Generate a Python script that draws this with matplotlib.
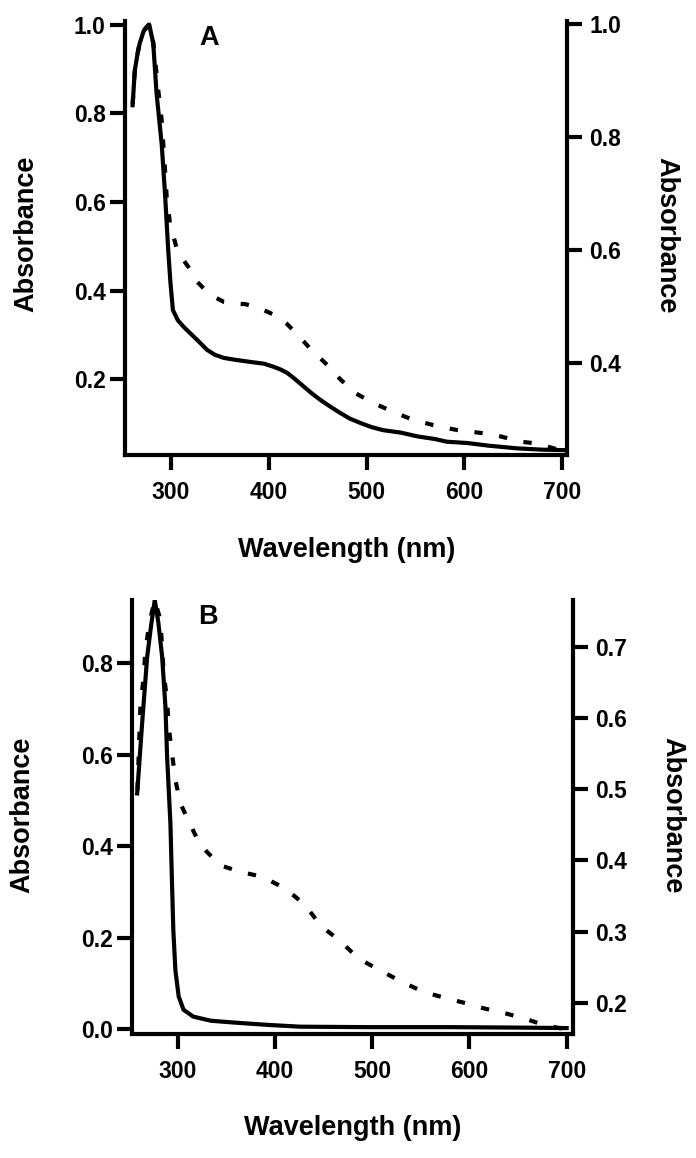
import numpy as np
import matplotlib.pyplot as plt

plt.rcParams['font.family'] = ['Liberation Sans', 'DejaVu Sans']
plt.rcParams['font.weight'] = 'bold'

# panel A, solid trace (left axis)
a_solid_wl = [260.8, 263, 265.5, 268, 272, 277.8, 281.9, 285.3, 290.5, 293.9, 297.2, 299.5,
              302, 307, 313, 320, 328, 337, 345, 354, 365, 381, 395, 405, 412, 419, 427,
              436, 444, 453, 463, 473, 483, 494, 505, 517, 535, 552, 570, 582, 603, 625,
              654, 680, 702]
a_solid_ab = [0.818, 0.896, 0.93, 0.957, 0.985, 1.0, 0.957, 0.844, 0.731, 0.619, 0.491,
              0.417, 0.356, 0.333, 0.318, 0.303, 0.286, 0.266, 0.255, 0.248, 0.244, 0.239,
              0.235, 0.228, 0.222, 0.214, 0.200, 0.183, 0.168, 0.153, 0.138, 0.124, 0.111,
              0.101, 0.092, 0.085, 0.0795, 0.071, 0.065, 0.059, 0.056, 0.050, 0.044,
              0.041, 0.040]

# panel A, dashed trace (right axis)
a_dash_wl = [260.8, 263, 265.5, 268, 272, 277.8, 282, 287, 290.5, 292.1, 293.9, 295.6,
             299, 305.8, 311.5, 317.7, 326, 335, 344, 354, 365, 376, 387, 398, 408, 418,
             430, 442, 451, 460, 472, 488, 507, 529, 548, 568, 593, 617, 637, 656, 675,
             695, 704]
a_dash_ab = [0.858, 0.918, 0.945, 0.966, 0.988, 1.0, 0.966, 0.883, 0.830, 0.789, 0.742,
             0.694, 0.647, 0.603, 0.585, 0.570, 0.545, 0.529, 0.517, 0.508, 0.505, 0.504,
             0.499, 0.491, 0.483, 0.470, 0.449, 0.426, 0.411, 0.396, 0.373, 0.347, 0.329,
             0.312, 0.299, 0.290, 0.281, 0.276, 0.270, 0.261, 0.257, 0.247, 0.245]

# panel B, solid trace (left axis)
b_solid_wl = [258.3, 263.4, 268.6, 272.5, 276.4, 280, 284, 287.4, 289.1, 292.5, 294,
              295.5, 297.6, 301, 306, 316, 334, 358, 392, 426, 495, 580, 650, 700]
b_solid_ab = [0.515, 0.668, 0.814, 0.88, 0.938, 0.89, 0.814, 0.704, 0.595, 0.45, 0.33,
              0.216, 0.129, 0.071, 0.042, 0.027, 0.018, 0.014, 0.009, 0.005, 0.004, 0.004,
              0.003, 0.002]

# panel B, dashed trace (right axis)
b_dash_wl = [258.6, 261.7, 265, 266.8, 271, 276.4, 282.2, 285.6, 289.1, 290.7, 294.2,
             297.6, 302.8, 314.8, 322, 330, 344, 364, 387, 407, 420, 431, 448, 466, 486,
             510, 531, 553, 577, 597, 615, 637, 656, 676, 697, 704]
b_dash_ab = [0.499, 0.618, 0.658, 0.695, 0.735, 0.766, 0.738, 0.663, 0.625, 0.588, 0.550,
             0.513, 0.480, 0.445, 0.425, 0.412, 0.393, 0.384, 0.377, 0.363, 0.350, 0.337,
             0.307, 0.288, 0.262, 0.244, 0.229, 0.215, 0.206, 0.199, 0.192, 0.185, 0.178,
             0.169, 0.163, 0.162]

a_left_ticks = [0.2, 0.4, 0.6, 0.8, 1.0]
a_right_ticks = [0.4, 0.6, 0.8, 1.0]
b_left_ticks = [0.0, 0.2, 0.4, 0.6, 0.8]
b_right_ticks = [0.2, 0.3, 0.4, 0.5, 0.6, 0.7]
x_ticks = [300, 400, 500, 600, 700]

W, H = 696, 1158
fig = plt.figure(figsize=(W / 100, H / 100), dpi=100)

LW = 3.0
TICK_FS = 16.5
LABEL_FS = 19.5


def style(ax, axr):
    for s in ['top', 'right']:
        ax.spines[s].set_visible(False)
    for s in ['top', 'left', 'bottom']:
        axr.spines[s].set_visible(False)
    ax.spines['left'].set_linewidth(LW)
    ax.spines['bottom'].set_linewidth(LW)
    axr.spines['right'].set_linewidth(LW)
    ax.tick_params(axis='y', direction='out', length=11, width=LW, pad=3,
                   labelsize=TICK_FS)
    ax.tick_params(axis='x', direction='out', length=11, width=LW, pad=8,
                   labelsize=TICK_FS)
    axr.tick_params(axis='y', direction='out', length=11, width=LW, pad=5,
                    labelsize=TICK_FS)
    for lab in ax.get_xticklabels() + ax.get_yticklabels() + axr.get_yticklabels():
        lab.set_fontweight('bold')
    ax.patch.set_visible(False)


def panel(rect, swl, sab, dwl, dab, xlim, ylim, yrlim, lt, rt):
    ax = fig.add_axes(rect)
    axr = ax.twinx()
    ax.plot(swl, sab, color='black', lw=LW, solid_joinstyle='round')
    axr.plot(dwl, dab, color='black', lw=LW, linestyle=(0, (2.0, 4.0)))
    ax.set_xlim(*xlim)
    ax.set_ylim(*ylim)
    axr.set_ylim(*yrlim)
    ax.set_xticks(x_ticks)
    ax.set_yticks(lt)
    ax.set_yticklabels(['%.1f' % v for v in lt])
    axr.set_yticks(rt)
    axr.set_yticklabels(['%.1f' % v for v in rt])
    ax.set_zorder(axr.get_zorder() + 1)
    style(ax, axr)
    return ax, axr


def fx(px):
    return px / W


def fy(py):
    return 1 - py / H


# panel A
axA, axAr = panel([fx(125), fy(455), fx(567) - fx(125), fy(21) - fy(455)],
                  a_solid_wl, a_solid_ab, a_dash_wl, a_dash_ab,
                  (253, 705), (0.029, 1.008), (0.237, 1.005),
                  a_left_ticks, a_right_ticks)

# panel B
axB, axBr = panel([fx(132), fy(1034), fx(572.5) - fx(132), fy(600) - fy(1034)],
                  b_solid_wl, b_solid_ab, b_dash_wl, b_dash_ab,
                  (253, 706), (-0.011, 0.938), (0.156, 0.766),
                  b_left_ticks, b_right_ticks)

# labels
kw = dict(fontsize=LABEL_FS, fontweight='bold', ha='center', va='center')
fig.text(fx(347), fy(550), 'Wavelength (nm)', **kw)
fig.text(fx(353), fy(1128), 'Wavelength (nm)', **kw)
fig.text(fx(26), fy(234), 'Absorbance', rotation=90, **kw)
fig.text(fx(666), fy(235), 'Absorbance', rotation=270, **kw)
fig.text(fx(22), fy(815), 'Absorbance', rotation=90, **kw)
fig.text(fx(672), fy(815), 'Absorbance', rotation=270, **kw)
fig.text(fx(209), fy(38), 'A', **kw)
fig.text(fx(208), fy(617), 'B', **kw)

fig.savefig('out.png', dpi=100)
